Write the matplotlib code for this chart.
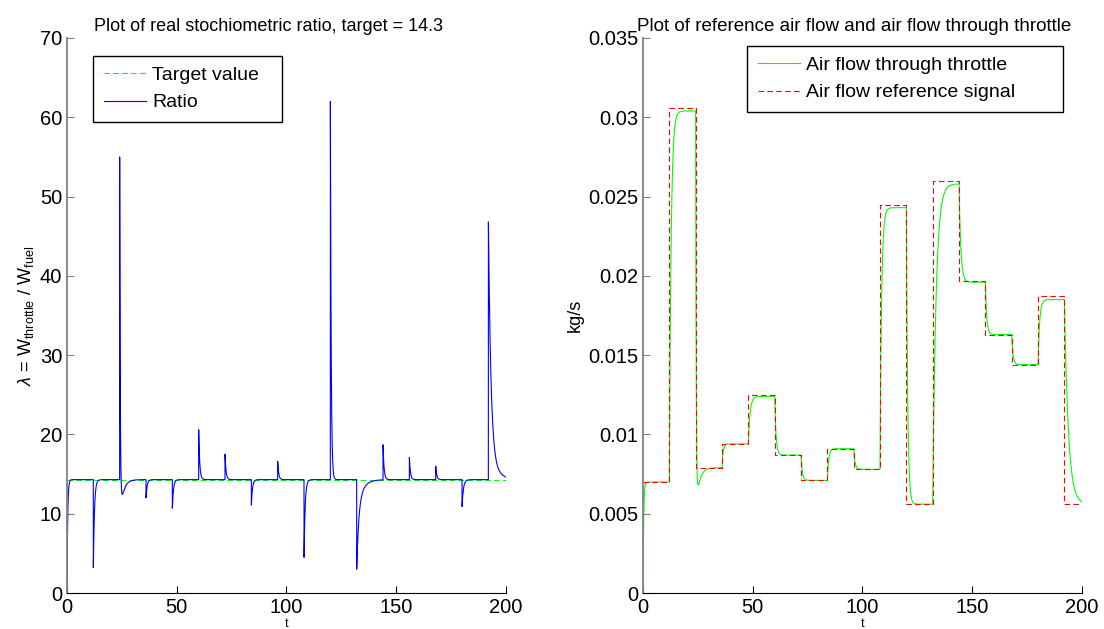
import matplotlib
matplotlib.use("Agg")
import matplotlib.pyplot as plt
import numpy as np

plt.rcParams['font.family'] = ['Liberation Sans', 'DejaVu Sans']
plt.rcParams['mathtext.fontset'] = 'custom'
plt.rcParams['mathtext.rm'] = 'Liberation Sans'
plt.rcParams['mathtext.it'] = 'Liberation Sans:italic'

# step times (s), one step every 12 s
step_t = [0, 12, 24, 36, 48, 60, 72, 84, 96, 108, 120, 132, 144, 156, 168, 180, 192]
t_end = 200

# reference air flow (kg/s)
ref_flow = [0.0070, 0.0306, 0.0079, 0.0094, 0.0125, 0.0087, 0.0071, 0.0091, 0.0078,
            0.0245, 0.0056, 0.0260, 0.0197, 0.0163, 0.0144, 0.0187, 0.0056]
# level the throttle flow settles on in each segment, and how fast it gets there
thr_flow = [0.0070, 0.0304, 0.0079, 0.0094, 0.0124, 0.0087, 0.0071, 0.0091, 0.0078,
            0.0243, 0.0056, 0.0258, 0.0196, 0.0163, 0.0144, 0.0185, 0.0056]
thr_tau = [0.3, 0.8, 0.25, 0.5, 0.8, 0.6, 0.6, 0.6, 0.6, 0.7, 0.6, 1.5, 0.8, 0.6, 0.6, 0.7, 1.8]
thr_dip = [0, 0, -0.0029, 0, 0, 0, 0, 0, 0, 0, 0, 0, 0, 0, 0, 0, 0]
thr_dip_tau = 1.5

# stoichiometric ratio: target and the peak reached right after each step
target = 14.3
ratio_peak = [0.0, 3.2, 55.0, 12.0, 10.7, 20.6, 17.5, 11.1, 16.6, 4.5, 62.0, 3.0, 18.7, 17.1,
              16.0, 10.9, 46.8]
ratio_tau = [0.3, 0.5, 0.25, 0.5, 0.5, 0.45, 0.45, 0.5, 0.45, 0.5, 0.35, 0.9, 0.45, 0.45,
             0.45, 0.6, 1.15]
ratio_tail = [0, 0, -5.0, 0, 0, 0, 0, 0, 0, 0, 0, -3.5, 0, 0, 0, 0, 3.0]
ratio_tail_tau = [1, 1, 1.5, 1, 1, 1, 1, 1, 1, 1, 1, 2.5, 1, 1, 1, 1, 3.5]

t = np.linspace(0, t_end, 8001)
edges = step_t + [t_end]

# throttle flow: lag towards each level, starting from where the last segment ended
flow = np.zeros_like(t)
y0 = 0.0
for k in range(len(step_t)):
    m = (t >= edges[k]) & (t <= edges[k + 1])
    dt = t[m] - edges[k]
    L = thr_flow[k]
    d = thr_dip[k]
    flow[m] = L + (y0 - L - d) * np.exp(-dt / thr_tau[k]) + d * np.exp(-dt / thr_dip_tau)
    y0 = flow[m][-1]

ratio = np.zeros_like(t)
for k in range(len(step_t)):
    m = (t >= edges[k]) & (t <= edges[k + 1])
    dt = t[m] - edges[k]
    a = ratio_tail[k]
    ratio[m] = target + (ratio_peak[k] - target - a) * np.exp(-dt / ratio_tau[k]) \
        + a * np.exp(-dt / ratio_tail_tau[k])

fig = plt.figure(figsize=(11.04, 6.29), dpi=100)
ax1 = fig.add_axes([0.0607, 0.0572, 0.3976, 0.8824])
ax2 = fig.add_axes([0.5824, 0.0572, 0.3976, 0.8824])

leg_kw = dict(loc='upper left', mode='expand', borderaxespad=0, fontsize=14, fancybox=False,
              edgecolor='black', framealpha=1, handlelength=2.2, handletextpad=0.3,
              borderpad=0.55, labelspacing=0.5)

ax1.plot([0, t_end], [target, target], '--', color=(0, 1, 0), lw=0.8, label='Target value',
         dashes=(5, 3))
ax1.plot(t, ratio, color=(0, 0, 1), lw=0.8, label='Ratio')
ax1.set_xlim(0, 200)
ax1.set_ylim(0, 70)
ax1.set_title('Plot of real stochiometric ratio, target = 14.3', fontsize=13, pad=5, x=0.458)
ax1.set_ylabel(r'$\lambda$ = W$_{\rm throttle}$ / W$_{\rm fuel}$', fontsize=13, labelpad=3)
ax1.set_xlabel('t', fontsize=9, labelpad=1)
ax1.legend(bbox_to_anchor=(0.059, 0, 0.4305, 0.968), **leg_kw)

ref_y = ref_flow + [ref_flow[-1]]
ax2.plot(t, flow, color=(0, 1, 0), lw=0.8, label='Air flow through throttle')
ax2.step(edges, ref_y, where='post', color=(1, 0, 0), lw=0.8, linestyle='--', dashes=(5, 3),
         label='Air flow reference signal')
ax2.set_xlim(0, 200)
ax2.set_ylim(0, 0.035)
ax2.set_yticks([0, 0.005, 0.01, 0.015, 0.02, 0.025, 0.03, 0.035])
ax2.set_yticklabels(['0', '0.005', '0.01', '0.015', '0.02', '0.025', '0.03', '0.035'])
ax2.set_title('Plot of reference air flow and air flow through throttle', fontsize=13.5, pad=5,
              x=0.48)
ax2.set_ylabel('kg/s', fontsize=13, labelpad=3)
ax2.set_xlabel('t', fontsize=9, labelpad=1)
ax2.legend(bbox_to_anchor=(0.237, 0, 0.72, 0.986), **leg_kw)

for ax in (ax1, ax2):
    ax.spines['top'].set_visible(False)
    ax.spines['right'].set_visible(False)
    ax.spines['left'].set_linewidth(1.3)
    ax.spines['left'].set_color('#808080')
    ax.spines['bottom'].set_linewidth(0.8)
    ax.tick_params(direction='in', length=5, width=0.8, labelsize=14.5)
    ax.tick_params(axis='y', color='#808080')
    ax.set_xticks([0, 50, 100, 150, 200])

fig.savefig('out.png', dpi=100)
